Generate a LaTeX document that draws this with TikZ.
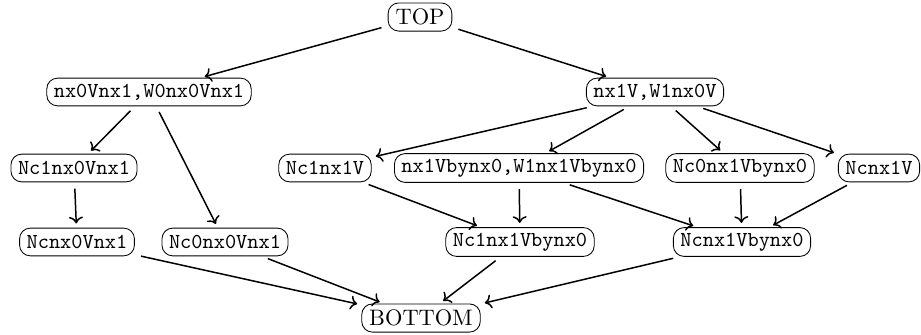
\documentclass[tikz,border=0pt]{standalone}
\usepackage{tikz}
\usetikzlibrary{arrows.meta}

\tikzset{
  lattnode/.style={draw, rounded corners=5pt, inner xsep=3.3pt, inner ysep=2.5pt, minimum height=13pt, font=\ttfamily},
  endnode/.style={draw, rounded corners=5pt, inner xsep=3.5pt, inner ysep=2.5pt, minimum height=13.2pt, font=\fontsize{10.5}{12}\selectfont},
  lattedge/.style={->, line width=0.7pt, shorten >=2pt, shorten <=3pt}
}

\begin{document}
\begin{tikzpicture}[x=0.469pt,y=-0.469pt]
\useasboundingbox (0,0) rectangle (921,334);

\node[endnode] (top) at (420,17) {TOP};
\node[lattnode] (l0) at (149,92) {nx0Vnx1,W0nx0Vnx1};
\node[lattnode] (r0) at (655,92) {nx1V,W1nx0V};

\node[lattnode] (l1a) at (74,168) {Nc1nx0Vnx1};
\node[lattnode] (r1a) at (325,168) {Nc1nx1V};
\node[lattnode] (r1b) at (519,168) {nx1Vbynx0,W1nx1Vbynx0};
\node[lattnode] (r1c) at (740,168) {Nc0nx1Vbynx0};
\node[lattnode] (r1d) at (879,168) {Ncnx1V};

\node[lattnode] (l2a) at (77,242) {Ncnx0Vnx1};
\node[lattnode] (l2b) at (225,242) {Nc0nx0Vnx1};
\node[lattnode] (r2a) at (520,242) {Nc1nx1Vbynx0};
\node[lattnode] (r2b) at (742,242) {Ncnx1Vbynx0};

\node[endnode] (bot) at (421,318) {BOTTOM};

\draw[lattedge] (top) -- (l0);
\draw[lattedge] (top) -- (r0);
\draw[lattedge] (l0) -- (l1a);
\draw[lattedge] (l0) -- (l2b);
\draw[lattedge] (l1a) -- (l2a);
\draw[lattedge] (r0) -- (r1a);
\draw[lattedge] (r0) -- (r1b);
\draw[lattedge] (r0) -- (r1c);
\draw[lattedge] (r0) -- (r1d);
\draw[lattedge] (r1a) -- (r2a);
\draw[lattedge] (r1b) -- (r2a);
\draw[lattedge] (r1b) -- (r2b);
\draw[lattedge] (r1c) -- (r2b);
\draw[lattedge] (r1d) -- (r2b);
\draw[lattedge] (l2a) -- (bot);
\draw[lattedge] (l2b) -- (bot);
\draw[lattedge] (r2a) -- (bot);
\draw[lattedge] (r2b) -- (bot);
\end{tikzpicture}
\end{document}
